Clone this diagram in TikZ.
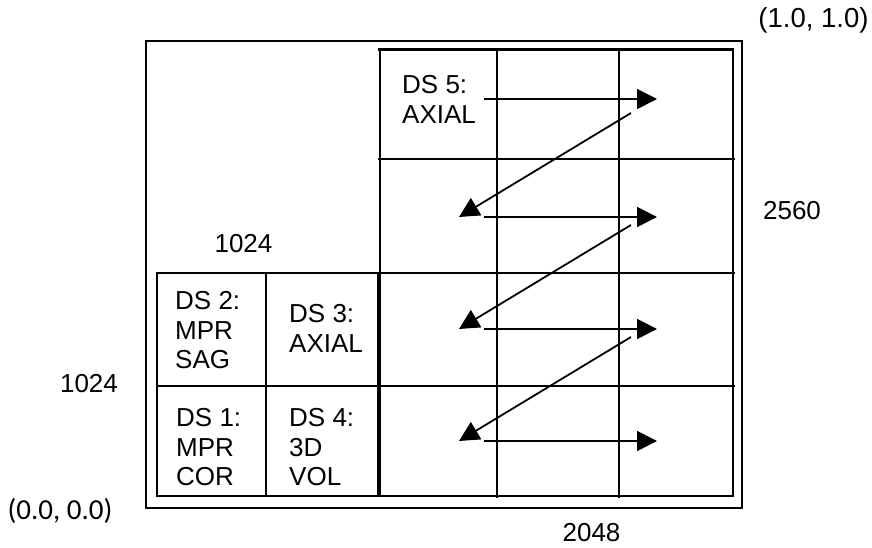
\documentclass[tikz,border=0pt]{standalone}
\usepackage{fontspec}
\setmainfont{Liberation Sans}
\newfontfamily\calfont{Carlito}
\usetikzlibrary{arrows.meta}
\tikzset{
  gridline/.style={line width=1.3pt},
  frameline/.style={line width=1.6pt},
  flowarrow/.style={line width=1.8pt, -{Triangle[length=20pt,width=20pt]}},
  dslabel/.style={anchor=north west, inner sep=0pt, align=left, font=\fontsize{26}{29.7}\selectfont},
  numlabel/.style={anchor=center, inner sep=0pt, font=\fontsize{26}{30}\selectfont},
}
\begin{document}
\begin{tikzpicture}[x=1pt,y=-1pt]
\useasboundingbox (0,0) rectangle (872,548);
% outer frame
\draw[frameline] (146,41) rectangle (742,508);
% right grid
\draw[gridline] (380,50) rectangle (733,496);
\draw[line width=3pt] (378,50) -- (734,50);
\draw[line width=2.2pt] (733,50) -- (733,496);
\draw[gridline] (497,50) -- (497,498);
\draw[gridline] (619,50) -- (619,498);
\draw[gridline] (378,159) -- (735,159);
\draw[gridline] (378,273) -- (735,273);
\draw[gridline] (378,386) -- (735,386);
% left block
\draw[gridline] (157,273) rectangle (378,496);
\draw[gridline] (266,272) -- (266,497);
\draw[gridline] (157,386) -- (378,386);
% labels
\node[dslabel] (ds5) at (402,75) {DS 5:\\AXIAL};
\node[dslabel] (ds2) at (175,291) {DS 2:\\MPR\\SAG};
\node[dslabel] (ds3) at (289,304) {DS 3:\\AXIAL};
\node[dslabel] (ds1) at (176,408) {DS 1:\\MPR\\COR};
\node[dslabel] (ds4) at (289,408) {DS 4:\\3D\\VOL};
\node[anchor=center, inner sep=0pt, font=\fontsize{27.5}{32}\selectfont] (tr) at (813.5,20) {(1.0, 1.0)};
\node[numlabel] (h) at (792,211) {2560};
\node[numlabel] (wtop) at (243.5,243.5) {1024};
\node[numlabel] (hleft) at (89,384) {1024};
\node[anchor=center, inner sep=0pt, font=\calfont\fontsize{29}{34}\selectfont] (orig) at (60,511) {(0.0, 0.0)};
\node[numlabel] (w) at (591.5,532.5) {2048};
% arrow end points
\coordinate (a1s) at (484,99);  \coordinate (a1e) at (657,99);
\coordinate (d1s) at (631,113); \coordinate (d1e) at (459,217);
\coordinate (a2s) at (484,217); \coordinate (a2e) at (657,217);
\coordinate (d2s) at (631,225); \coordinate (d2e) at (459,329);
\coordinate (a3s) at (484,329); \coordinate (a3e) at (657,329);
\coordinate (d3s) at (631,337); \coordinate (d3e) at (459,441);
\coordinate (a4s) at (484,441); \coordinate (a4e) at (657,441);
\draw[flowarrow] (a1s) -- (a1e);
\draw[flowarrow] (d1s) -- (d1e);
\draw[flowarrow] (a2s) -- (a2e);
\draw[flowarrow] (d2s) -- (d2e);
\draw[flowarrow] (a3s) -- (a3e);
\draw[flowarrow] (d3s) -- (d3e);
\draw[flowarrow] (a4s) -- (a4e);
\end{tikzpicture}
\end{document}
